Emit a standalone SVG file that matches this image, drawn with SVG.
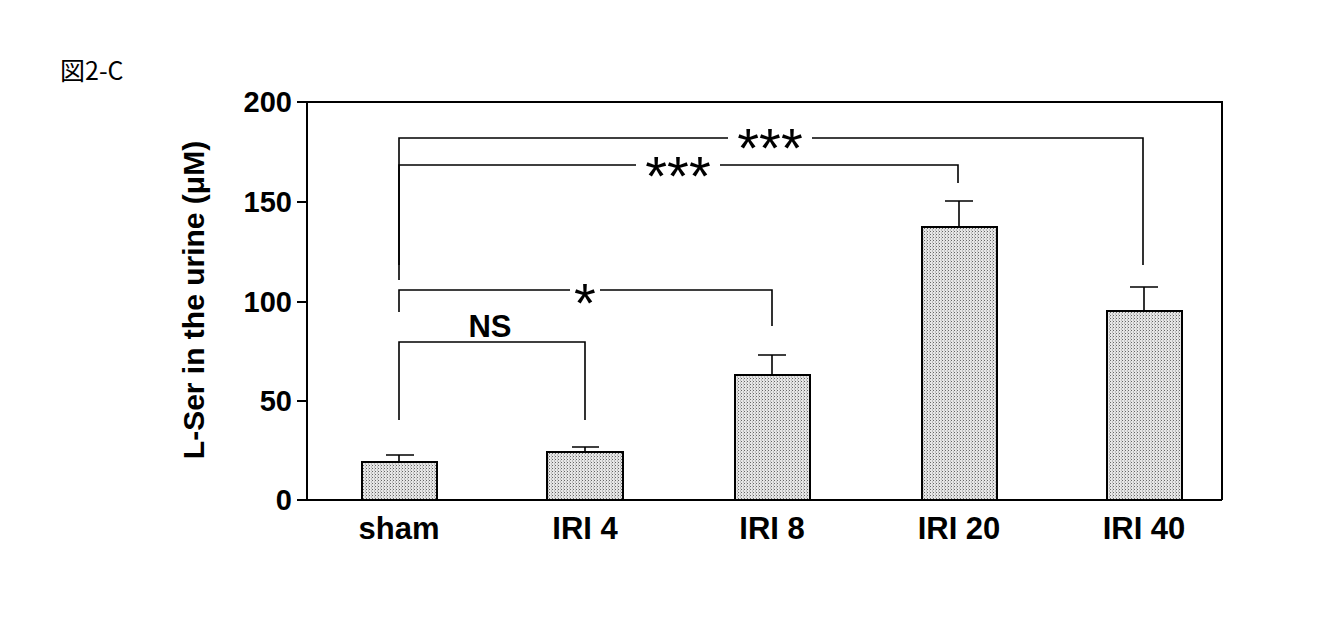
<svg xmlns="http://www.w3.org/2000/svg" width="1331" height="618" viewBox="0 0 1331 618">
<defs>
<pattern id="dots" width="3" height="3" patternUnits="userSpaceOnUse">
<rect width="3" height="3" fill="#e6e6e6"/><rect width="1" height="1" fill="#666"/><rect x="2" y="1.5" width="1" height="1" fill="#999"/>
</pattern>
</defs>
<style>
.ax{stroke:#000;stroke-width:2;fill:none}
.br{stroke:#000;stroke-width:1.6;fill:none}
.bar{fill:url(#dots);stroke:#000;stroke-width:2}
.t{font-family:"Liberation Sans",Arial,sans-serif;font-weight:bold;fill:#000}
.s{font-family:"Liberation Sans",Arial,sans-serif;fill:#000;font-size:56px}
</style>
<rect width="1331" height="618" fill="#fff"/>
<text x="60" y="80" font-family="'Noto Sans CJK JP','Liberation Sans',sans-serif" font-size="25">図2-C</text>
<g id="axes">
<path class="ax" d="M307,102 H1222 V500 M307,102 V500 H1222"/>
<path class="ax" d="M297,102 H307 M297,202 H307 M297,302 H307 M297,401 H307 M297,500 H307"/>
<g class="t" font-size="29" text-anchor="end">
<text x="292" y="112">200</text><text x="292" y="212">150</text><text x="292" y="312">100</text><text x="292" y="411">50</text><text x="292" y="510">0</text>
</g>
<text class="t" font-size="30" transform="translate(204,300) rotate(-90)" text-anchor="middle">L-Ser in the urine (μM)</text>
</g>
<g id="bars">
<path class="br" d="M399,462 V455 M386,455 H414 M585,452 V447 M572,447 H599 M772,375 V355 M758,355 H786 M959,227 V201 M945,201 H973 M1144,311 V287 M1130,287 H1158"/>
<rect class="bar" x="362" y="462" width="75" height="38"/>
<rect class="bar" x="547" y="452" width="76" height="48"/>
<rect class="bar" x="735" y="375" width="75" height="125"/>
<rect class="bar" x="922" y="227" width="75" height="273"/>
<rect class="bar" x="1107" y="311" width="75" height="189"/>
</g>
<g class="t" font-size="31" text-anchor="middle">
<text x="399" y="539">sham</text><text x="585" y="539">IRI 4</text><text x="772" y="539">IRI 8</text><text x="959" y="539">IRI 20</text><text x="1144" y="539">IRI 40</text>
</g>
<g id="connectors">
<path class="br" d="M399,420 V342 H585 V420"/>
<path class="br" d="M399,312 V290 H772 V326"/>
<path class="br" d="M399,280 V165 H958 V183"/>
<path class="br" d="M399,265 V138 H1143 V265"/>
</g>
<g text-anchor="middle">
<rect x="460" y="305" width="60" height="35" fill="#fff"/>
<text class="t" x="490" y="337" font-size="31">NS</text>
<rect x="570" y="280" width="30" height="20" fill="#fff"/>
<text class="s" x="585" y="322">*</text>
<rect x="636" y="152" width="84" height="26" fill="#fff"/>
<text class="s" x="678" y="195">***</text>
<rect x="728" y="124" width="84" height="26" fill="#fff"/>
<text class="s" x="770" y="167">***</text>
</g>
</svg>
